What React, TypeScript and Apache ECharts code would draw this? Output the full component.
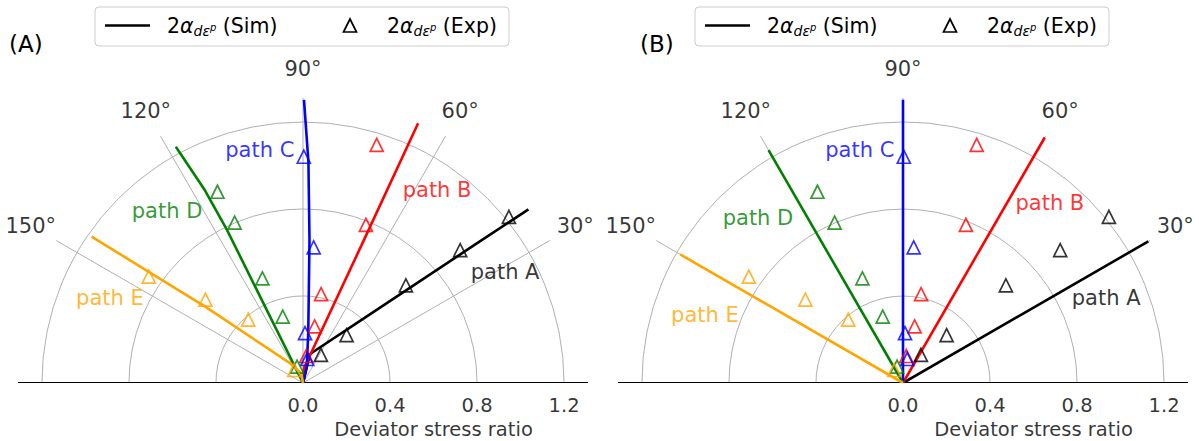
import { useEffect, useRef } from 'react';
import * as echarts from 'echarts';

const PATH_NAMES = ['path A', 'path B', 'path C', 'path D', 'path E'];
const PATH_COLORS = ['#000000', '#ff0000', '#0000ff', '#008000', '#ffa500'];

// Simulated flow direction, model (A): [deviator stress ratio, angle in degrees]
const simA_pathA = [[0, 80], [0.137, 76.4], [0.412, 46.6], [0.709, 41.1], [1.008, 38.85], [1.308, 37.6]];
const simA_pathB = [[0, 86], [0.069, 86], [0.686, 67.0], [1.306, 66.1]];
const simA_pathC = [[0, 80], [0.077, 77], [0.231, 84], [0.658, 87.4], [1.018, 88.6], [1.301, 89.8]];
const simA_pathD = [[0, 116], [0.786, 116.4], [1.0, 117.0], [1.233, 118.3]];
const simA_pathE = [[0, 100], [0.045, 100], [0.109, 123.4], [0.566, 142.0], [1.182, 145.3]];

// Simulated flow direction, model (B)
const simB_pathA = [[0, 30], [1.302, 30]];
const simB_pathB = [[0, 60], [1.303, 60]];
const simB_pathC = [[0, 90], [1.302, 90]];
const simB_pathD = [[0, 120], [1.236, 120]];
const simB_pathE = [[0, 150], [1.183, 150]];

// Measured flow direction (shown in both panels)
const exp_pathA = [[0.153, 57.5], [0.298, 47.7], [0.652, 43.5], [0.946, 40.2], [1.216, 38.9]];
const exp_pathB = [[0.125, 83], [0.266, 78.4], [0.417, 78.5], [0.782, 68.3], [1.146, 72.8]];
const exp_pathC = [[0.112, 80], [0.229, 87.7], [0.625, 85.5], [1.04, 89.8]];
const exp_pathD = [[0.08, 110], [0.319, 107], [0.516, 111.2], [0.801, 113.1], [0.963, 114.1]];
const exp_pathE = [[0.072, 124], [0.385, 130.8], [0.59, 139.5], [0.861, 145.4]];

const R_TICKS = [0, 0.4, 0.8, 1.2];
const THETA_TICKS = [30, 60, 90, 120, 150];
const R_MAX = 1.31;

const SIM_A = [simA_pathA, simA_pathB, simA_pathC, simA_pathD, simA_pathE];
const SIM_B = [simB_pathA, simB_pathB, simB_pathC, simB_pathD, simB_pathE];
const EXP = [exp_pathA, exp_pathB, exp_pathC, exp_pathD, exp_pathE];

// where each path name is written, [r, angle]
const NAME_POS_A = [[1.06, 28.8], [1.08, 55.2], [1.089, 100.5], [1.008, 128.3], [0.97, 156.2]];
const NAME_POS_B = [[1.012, 22.7], [1.068, 50.8], [1.089, 100.5], [1.01, 131.3], [0.963, 161.0]];

const FONT = 'DejaVu Sans';
const GRID = '#b0b0b0';
const CLEAR = 'rgba(0,0,0,0)';
const THETA_LABEL_R = 1.445;

const PANELS = [
  { tag: '(A)', tagX: 9, center: [303, 383], sim: SIM_A, namePos: NAME_POS_A, legendX: 95 },
  { tag: '(B)', tagX: 640, center: [903, 383], sim: SIM_B, namePos: NAME_POS_B, legendX: 695 },
];

const LEGEND_RICH = {
  n: { fontSize: 20.5, fontFamily: FONT },
  a: { fontSize: 20.5, fontFamily: FONT, fontStyle: 'italic' },
  s: { fontSize: 14, fontFamily: FONT, fontStyle: 'italic', padding: [10, 0, 0, 0] },
  p: { fontSize: 10, fontFamily: FONT, fontStyle: 'italic', padding: [3, 0, 0, 0] },
};

const legendLabel = (kind: string) => `{n|2}{a|α}{s|dε}{p|p}{n| (${kind})}`;

function legendElements(lx: number) {
  const cy = 25.5;
  const tx = lx + 255;
  const h = 6.5;
  return [
    {
      type: 'rect', silent: true, z: 10,
      shape: { x: lx, y: 7, width: 414, height: 39, r: 4 },
      style: { fill: '#ffffff', stroke: '#cccccc', lineWidth: 1 },
    },
    {
      type: 'line', silent: true, z: 11,
      shape: { x1: lx + 10, y1: cy, x2: lx + 55, y2: cy },
      style: { stroke: '#000', lineWidth: 2.6 },
    },
    {
      type: 'text', silent: true, z: 11,
      style: {
        x: lx + 72, y: cy, text: legendLabel('Sim'), rich: LEGEND_RICH,
        fontSize: 20.5, fontFamily: FONT, lineHeight: 26, verticalAlign: 'middle',
      },
    },
    {
      type: 'polygon', silent: true, z: 11,
      shape: { points: [[tx, cy - h], [tx + h, cy + h], [tx - h, cy + h]] },
      style: { fill: 'none', stroke: '#000', lineWidth: 1.7 },
    },
    {
      type: 'text', silent: true, z: 11,
      style: {
        x: lx + 292, y: cy, text: legendLabel('Exp'), rich: LEGEND_RICH,
        fontSize: 20.5, fontFamily: FONT, lineHeight: 26, verticalAlign: 'middle',
      },
    },
  ];
}

function labelSeries(polarIndex: number, data: any[], label: any) {
  return {
    type: 'scatter', coordinateSystem: 'polar', polarIndex, clip: false, silent: true,
    symbolSize: 1, itemStyle: { color: CLEAR }, data,
    label: {
      show: true, position: 'inside', color: '#000', fontSize: 21, fontFamily: FONT,
      textBorderWidth: 0, lineHeight: 19, ...label,
    },
    z: 6,
  };
}

function buildOption() {
  const series: any[] = [];
  PANELS.forEach((p, i) => {
    // baseline along 0° / 180°
    series.push({
      type: 'line', coordinateSystem: 'polar', polarIndex: i, clip: false, silent: true,
      symbol: 'none', data: [[R_MAX, 0], [R_MAX, 180]],
      lineStyle: { color: '#000', width: 1.8 }, z: 3,
    });
    p.sim.forEach((d, k) => {
      series.push({
        name: 'Sim', type: 'line', coordinateSystem: 'polar', polarIndex: i, clip: false, silent: true,
        symbol: 'none', data: d, lineStyle: { color: PATH_COLORS[k], width: 2.6 }, z: 4,
      });
    });
    EXP.forEach((d, k) => {
      series.push({
        name: 'Exp', type: 'scatter', coordinateSystem: 'polar', polarIndex: i, clip: false, silent: true,
        symbol: 'triangle', symbolSize: 13, data: d,
        itemStyle: { color: CLEAR, borderColor: PATH_COLORS[k], borderWidth: 1.7 }, z: 5,
      });
    });
    series.push(labelSeries(i, THETA_TICKS.map((t) => [THETA_LABEL_R, t]), {
      formatter: (q: any) => `${q.value[1]}°`,
    }));
    series.push(labelSeries(i, R_TICKS.map((r) => [r, 0]), {
      offset: [0, 22.5], fontSize: 19.5, lineHeight: 18, formatter: (q: any) => q.value[0].toFixed(1),
    }));
    series.push(labelSeries(i, [[0.6, 0]], {
      offset: [0, 46.5], fontSize: 19.5, lineHeight: 18, formatter: 'Deviator stress ratio',
    }));
    series.push(labelSeries(i, p.namePos.map((pos, k) => ({
      value: pos, label: { formatter: PATH_NAMES[k], color: PATH_COLORS[k] },
    })), {}));
  });

  const graphic: any[] = [];
  PANELS.forEach((p) => {
    graphic.push({
      type: 'text', silent: true,
      style: { x: p.tagX, y: 44, text: p.tag, fontSize: 23, fontFamily: FONT, fill: '#000', verticalAlign: 'middle' },
    });
    graphic.push(...legendElements(p.legendX));
  });

  return {
    animation: false,
    backgroundColor: '#ffffff',
    polar: PANELS.map((p) => ({ center: p.center, radius: 285 })),
    angleAxis: PANELS.map((_, i) => ({
      polarIndex: i, type: 'value', min: 0, max: 180, interval: 30,
      startAngle: 0, endAngle: 180, clockwise: false,
      axisLine: { show: false }, axisTick: { show: false }, axisLabel: { show: false },
      splitLine: { show: true, lineStyle: { color: [CLEAR, GRID, GRID, GRID, GRID, GRID, CLEAR], width: 1 } },
    })),
    radiusAxis: PANELS.map((_, i) => ({
      polarIndex: i, type: 'value', min: 0, max: R_MAX, interval: 0.4,
      axisLine: { show: false }, axisTick: { show: false }, axisLabel: { show: false },
      splitLine: { show: true, lineStyle: { color: [CLEAR, GRID, GRID, GRID, CLEAR], width: 1 } },
    })),
    series,
    graphic,
  };
}

export default function App() {
  const ref = useRef<HTMLDivElement>(null);
  useEffect(() => {
    if (!ref.current) return;
    const chart = echarts.init(ref.current, undefined, { renderer: 'svg' });
    chart.setOption(buildOption() as any);
    return () => chart.dispose();
  }, []);
  return (
    <div
      ref={ref}
      style={{ position: 'fixed', left: 0, top: 0, width: 1199, height: 441, background: '#fff' }}
    />
  );
}
